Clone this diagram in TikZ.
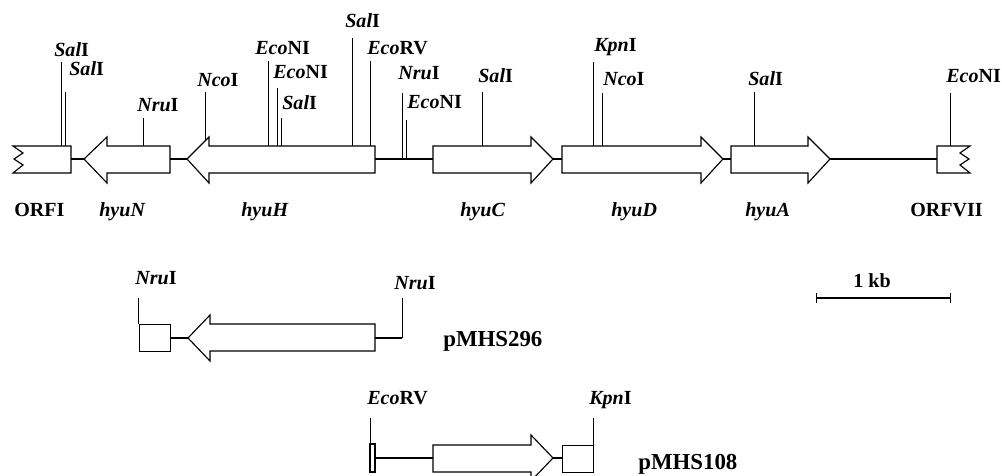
\documentclass[tikz,border=0pt]{standalone}
\usepackage{fontspec}
\setmainfont{Liberation Serif}
\usetikzlibrary{positioning}
\newcommand{\enz}[2]{\textbf{\textit{#1}#2}}
\tikzset{
  gene/.style={draw=black, fill=white, line width=0.65pt, line join=miter},
  dnaline/.style={draw=black, line width=0.75pt},
  dnathick/.style={draw=black, line width=1pt},
  site/.style={draw=black, line width=0.5pt},
  lab/.style={font=\fontsize{11.4pt}{12pt}\selectfont, inner sep=0pt, anchor=base west},
  genelab/.style={font=\fontsize{11.4pt}{12pt}\selectfont\bfseries\itshape, inner sep=0pt, anchor=base west},
  orflab/.style={font=\fontsize{11.4pt}{12pt}\selectfont\bfseries, inner sep=0pt, anchor=base west},
  plab/.style={font=\fontsize{13pt}{14pt}\selectfont\bfseries, inner sep=0pt, anchor=base west}
}
\begin{document}
\begin{tikzpicture}[x=0.02cm, y=-0.02cm]
  \useasboundingbox (0,0) rectangle (1002,476);
  % left and right pointing genes: name / tip / head back / box end
  \foreach \nm/\tip/\bck/\en in {hyuN/84/107/170, hyuH/187/209/375} {
    \draw[gene] (\tip,159) -- (\bck,137) -- (\bck,146) -- (\en,146) -- (\en,173) -- (\bck,173) -- (\bck,183) -- cycle;
    \coordinate (\nm-tip) at (\tip,159);
    \coordinate (\nm-end) at (\en,159);
  }
  \foreach \nm/\en/\bck/\tip in {hyuC/433/531/553, hyuD/562/701/723, hyuA/731/808/830} {
    \draw[gene] (\tip,159) -- (\bck,137) -- (\bck,146) -- (\en,146) -- (\en,173) -- (\bck,173) -- (\bck,183) -- cycle;
    \coordinate (\nm-tip) at (\tip,159);
    \coordinate (\nm-end) at (\en,159);
  }
  % truncated ORFs
  \draw[gene] (13,146) -- (71,146) -- (71,173) -- (13,173) -- (23,165) -- (14,159) -- (23,153) -- cycle;
  \coordinate (ORFI-end) at (71,159);
  \draw[gene] (970,146) -- (937,146) -- (937,173) -- (970,173) -- (960,165) -- (969,159) -- (960,153) -- cycle;
  \coordinate (ORFVII-end) at (937,159);
  % intergenic lines
  \draw[dnaline] (ORFI-end) -- (hyuN-tip);
  \draw[dnaline] (hyuN-end) -- (hyuH-tip);
  \draw[dnathick] (hyuH-end) -- (hyuC-end);
  \draw[dnaline] (hyuC-tip) -- (hyuD-end);
  \draw[dnaline] (hyuD-tip) -- (hyuA-end);
  \draw[dnaline] (hyuA-tip) -- (ORFVII-end);
  % restriction sites: x / top / bottom
  \foreach \px/\ptop/\pbot in {61.5/62/146, 65/92/146, 143/118/146, 205/92/141, 268/61/146, 277/88/146,
    281/118/146, 352/38/146, 370/61/146, 402/93/159, 406/120/159, 482/92/146,
    593/62/146, 602/93/146, 754/92/146, 950/93/146,
    138.5/298/324, 402/298/338, 370.5/418/444, 593/418/445} {
    \draw[site] (\px,\ptop) -- (\px,\pbot);
  }
  % site labels
  \foreach \nm/\px/\py/\ea/\eb in {a/54/57/Sal/I, b/69/76/Sal/I, c/137/112/Nru/I, d/197/87/Nco/I,
    e/255/55/Eco/NI, f/273/79/Eco/NI, g/282/110/Sal/I, h/345/28/Sal/I, i/367/55/Eco/RV,
    j/398/80/Nru/I, k/407/109/Eco/NI, l/478/83/Sal/I, m/594/52/Kpn/I, n/603/86/Nco/I,
    o/748/86/Sal/I, p/946/83/Eco/NI, q/135/285/Nru/I, r/394/290/Nru/I, s/367/405/Eco/RV, t/589/405/Kpn/I} {
    \node[lab] (lab\nm) at (\px,\py) {\enz{\ea}{\eb}};
  }
  % gene names
  \foreach \nm/\px in {hyuN/99, hyuH/241, hyuC/460, hyuD/611, hyuA/745} {
    \node[genelab] (name\nm) at (\px,217) {\nm};
  }
  \node[orflab] (nameORFI) at (14,217) {ORFI};
  \node[orflab] (nameORFVII) at (910,217) {ORFVII};
  % scale bar
  \coordinate (barL) at (816,298);
  \coordinate (barR) at (950,298);
  \draw[dnaline] (barL) -- (barR);
  \draw[site] (816,293) -- (816,303);
  \draw[site] (950,293) -- (950,303);
  \node[orflab] (barlab) at (853,288) {1 kb};
  % pMHS296
  \draw[gene] (139.5,324.5) rectangle (170.5,351.5);
  \draw[gene] (188,338) -- (210,315) -- (210,324) -- (375,324) -- (375,351) -- (210,351) -- (210,361) -- cycle;
  \coordinate (p296a) at (170,338);
  \coordinate (p296b) at (188,338);
  \coordinate (p296c) at (375,338);
  \coordinate (p296d) at (402,338);
  \draw[dnaline] (p296a) -- (p296b);
  \draw[dnaline] (p296c) -- (p296d);
  \node[plab] (p296) at (443,347) {pMHS296};
  % pMHS108
  \draw[gene] (370,444) rectangle (375,472);
  \draw[gene] (553,458) -- (531,435) -- (531,445) -- (433,445) -- (433,472) -- (531,472) -- (531,481) -- cycle;
  \draw[gene] (562.5,445.5) rectangle (593.5,472.5);
  \coordinate (p108a) at (375,458);
  \coordinate (p108b) at (433,458);
  \coordinate (p108c) at (553,458);
  \coordinate (p108d) at (562,458);
  \draw[dnaline] (p108a) -- (p108b);
  \draw[dnaline] (p108c) -- (p108d);
  \node[plab] (p108) at (638,470) {pMHS108};
\end{tikzpicture}
\end{document}
